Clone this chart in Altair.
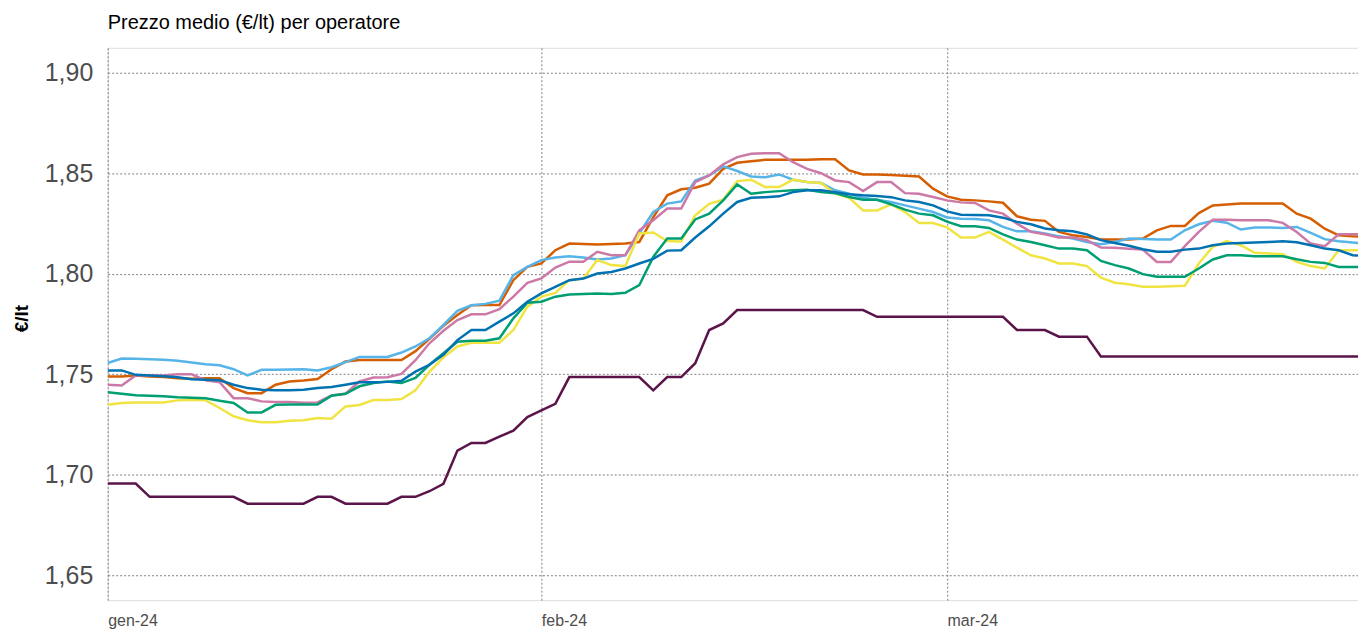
import altair as alt
import pandas as pd

start = "2024-01-01"
n_days = 91

sky = [1.7556, 1.7578, 1.7577, 1.7575, 1.7572, 1.7567, 1.7558, 1.7550, 1.7545, 1.7525,
       1.7494, 1.7522, 1.7522, 1.7524, 1.7525, 1.7519, 1.7535, 1.7560, 1.7586, 1.7586,
       1.7586, 1.7608, 1.7638, 1.7679, 1.7745, 1.7815, 1.7843, 1.7850, 1.7866, 1.7993,
       1.8034, 1.8068, 1.8081, 1.8087, 1.8081, 1.8071, 1.8076, 1.8092, 1.8200, 1.8307,
       1.8349, 1.8360, 1.8464, 1.8489, 1.8534, 1.8511, 1.8484, 1.8480, 1.8494, 1.8468,
       1.8456, 1.8451, 1.8415, 1.8398, 1.8378, 1.8368, 1.8357, 1.8340, 1.8324, 1.8307,
       1.8280, 1.8273, 1.8272, 1.8266, 1.8233, 1.8211, 1.8211, 1.8200, 1.8186, 1.8175,
       1.8158, 1.8147, 1.8158, 1.8175, 1.8173, 1.8170, 1.8170, 1.8216, 1.8246, 1.8263,
       1.8254, 1.8220, 1.8230, 1.8230, 1.8228, 1.8233, 1.8203, 1.8172, 1.8162, 1.8155,
       1.8150]

orange = [1.7489, 1.7489, 1.7494, 1.7489, 1.7486, 1.7480, 1.7477, 1.7480, 1.7480, 1.7431,
          1.7406, 1.7406, 1.7448, 1.7464, 1.7469, 1.7476, 1.7525, 1.7563, 1.7571, 1.7571,
          1.7571, 1.7571, 1.7615, 1.7676, 1.7741, 1.7795, 1.7843, 1.7844, 1.7844, 1.7968,
          1.8034, 1.8051, 1.8117, 1.8150, 1.8148, 1.8145, 1.8148, 1.8150, 1.8158, 1.8280,
          1.8390, 1.8420, 1.8428, 1.8448, 1.8522, 1.8552, 1.8560, 1.8567, 1.8567, 1.8567,
          1.8567, 1.8570, 1.8570, 1.8514, 1.8494, 1.8494, 1.8491, 1.8488, 1.8484, 1.8423,
          1.8385, 1.8368, 1.8365, 1.8360, 1.8353, 1.8286, 1.8269, 1.8263, 1.8208, 1.8191,
          1.8183, 1.8170, 1.8170, 1.8170, 1.8175, 1.8216, 1.8238, 1.8238, 1.8302, 1.8340,
          1.8344, 1.8349, 1.8349, 1.8349, 1.8349, 1.8299, 1.8274, 1.8224, 1.8191, 1.8186,
          1.8183]

pink = [1.7448, 1.7444, 1.7494, 1.7494, 1.7494, 1.7500, 1.7500, 1.7470, 1.7460, 1.7381,
        1.7381, 1.7365, 1.7362, 1.7362, 1.7358, 1.7360, 1.7395, 1.7403, 1.7464, 1.7484,
        1.7485, 1.7502, 1.7570, 1.7654, 1.7716, 1.7770, 1.7798, 1.7798, 1.7824, 1.7886,
        1.7955, 1.7977, 1.8031, 1.8060, 1.8060, 1.8109, 1.8092, 1.8092, 1.8216, 1.8266,
        1.8324, 1.8324, 1.8456, 1.8489, 1.8544, 1.8580, 1.8597, 1.8600, 1.8600, 1.8555,
        1.8522, 1.8500, 1.8464, 1.8456, 1.8411, 1.8456, 1.8456, 1.8401, 1.8398, 1.8382,
        1.8365, 1.8355, 1.8352, 1.8315, 1.8299, 1.8249, 1.8208, 1.8196, 1.8180, 1.8180,
        1.8167, 1.8130, 1.8129, 1.8124, 1.8120, 1.8059, 1.8059, 1.8137, 1.8208, 1.8269,
        1.8269, 1.8266, 1.8266, 1.8266, 1.8253, 1.8208, 1.8150, 1.8137, 1.8196, 1.8196,
        1.8196]

blue = [1.7519, 1.7519, 1.7497, 1.7494, 1.7490, 1.7485, 1.7475, 1.7472, 1.7470, 1.7448,
        1.7431, 1.7423, 1.7420, 1.7420, 1.7423, 1.7431, 1.7437, 1.7448, 1.7460, 1.7460,
        1.7462, 1.7468, 1.7513, 1.7547, 1.7597, 1.7670, 1.7720, 1.7720, 1.7762, 1.7803,
        1.7861, 1.7902, 1.7935, 1.7968, 1.7976, 1.8001, 1.8009, 1.8026, 1.8051, 1.8074,
        1.8115, 1.8117, 1.8180, 1.8236, 1.8299, 1.8357, 1.8378, 1.8381, 1.8385, 1.8406,
        1.8415, 1.8415, 1.8406, 1.8395, 1.8390, 1.8387, 1.8381, 1.8365, 1.8357, 1.8340,
        1.8310, 1.8294, 1.8292, 1.8291, 1.8279, 1.8258, 1.8246, 1.8225, 1.8216, 1.8211,
        1.8196, 1.8167, 1.8153, 1.8139, 1.8122, 1.8109, 1.8109, 1.8120, 1.8125, 1.8142,
        1.8150, 1.8153, 1.8155, 1.8158, 1.8162, 1.8157, 1.8142, 1.8125, 1.8117, 1.8092,
        1.8089]

green = [1.7410, 1.7403, 1.7395, 1.7393, 1.7390, 1.7385, 1.7383, 1.7380, 1.7368, 1.7357,
         1.7310, 1.7310, 1.7348, 1.7349, 1.7350, 1.7350, 1.7393, 1.7403, 1.7440, 1.7456,
         1.7464, 1.7456, 1.7482, 1.7547, 1.7604, 1.7662, 1.7667, 1.7667, 1.7679, 1.7778,
         1.7856, 1.7861, 1.7886, 1.7897, 1.7899, 1.7902, 1.7899, 1.7905, 1.7943, 1.8084,
         1.8175, 1.8175, 1.8270, 1.8299, 1.8365, 1.8444, 1.8398, 1.8406, 1.8411, 1.8415,
         1.8418, 1.8406, 1.8401, 1.8382, 1.8368, 1.8368, 1.8345, 1.8319, 1.8299, 1.8291,
         1.8259, 1.8236, 1.8236, 1.8228, 1.8196, 1.8170, 1.8158, 1.8142, 1.8125, 1.8125,
         1.8117, 1.8064, 1.8043, 1.8026, 1.7998, 1.7985, 1.7985, 1.7985, 1.8026, 1.8071,
         1.8092, 1.8092, 1.8087, 1.8087, 1.8087, 1.8072, 1.8059, 1.8054, 1.8034, 1.8034,
         1.8034]

yellow = [1.7348, 1.7357, 1.7360, 1.7360, 1.7360, 1.7370, 1.7373, 1.7370, 1.7332, 1.7291,
          1.7271, 1.7261, 1.7261, 1.7269, 1.7271, 1.7282, 1.7279, 1.7340, 1.7347, 1.7372,
          1.7372, 1.7377, 1.7420, 1.7512, 1.7584, 1.7638, 1.7657, 1.7657, 1.7657, 1.7720,
          1.7836, 1.7886, 1.7905, 1.7968, 1.7976, 1.8068, 1.8043, 1.8038, 1.8200, 1.8205,
          1.8163, 1.8160, 1.8291, 1.8348, 1.8368, 1.8461, 1.8468, 1.8431, 1.8431, 1.8468,
          1.8456, 1.8451, 1.8398, 1.8378, 1.8315, 1.8315, 1.8345, 1.8307, 1.8252, 1.8252,
          1.8231, 1.8180, 1.8180, 1.8208, 1.8170, 1.8130, 1.8092, 1.8076, 1.8051, 1.8051,
          1.8038, 1.7981, 1.7955, 1.7948, 1.7935, 1.7935, 1.7938, 1.7940, 1.8051, 1.8134,
          1.8163, 1.8142, 1.8104, 1.8101, 1.8097, 1.8059, 1.8038, 1.8026, 1.8117, 1.8117,
          1.8117]

purple = [1.6956, 1.6956, 1.6956, 1.6890, 1.6890, 1.6890, 1.6890, 1.6890, 1.6890, 1.6890,
          1.6856, 1.6856, 1.6856, 1.6856, 1.6856, 1.6890, 1.6890, 1.6856, 1.6856, 1.6856,
          1.6856, 1.6890, 1.6890, 1.6918, 1.6955, 1.7120, 1.7158, 1.7158, 1.7190, 1.7219,
          1.7287, 1.7320, 1.7353, 1.7486, 1.7486, 1.7486, 1.7486, 1.7486, 1.7486, 1.7420,
          1.7486, 1.7486, 1.7555, 1.7720, 1.7753, 1.7819, 1.7819, 1.7819, 1.7819, 1.7819,
          1.7819, 1.7819, 1.7819, 1.7819, 1.7819, 1.7786, 1.7786, 1.7786, 1.7786, 1.7786,
          1.7786, 1.7786, 1.7786, 1.7786, 1.7786, 1.7720, 1.7720, 1.7720, 1.7687, 1.7687,
          1.7687, 1.7588, 1.7588, 1.7588, 1.7588, 1.7588, 1.7588, 1.7588, 1.7588, 1.7588,
          1.7588, 1.7588, 1.7588, 1.7588, 1.7588, 1.7588, 1.7588, 1.7588, 1.7588, 1.7588,
          1.7588]

series_names = ["Operatore A", "Operatore B", "Operatore C", "Operatore D",
                "Operatore E", "Operatore F", "Operatore G"]
series_values = [orange, sky, pink, yellow, green, blue, purple]
series_colors = ["#D55E00", "#56B4E9", "#CC79A7", "#F0E442", "#009E73", "#0072B2", "#5A1449"]

dates = pd.date_range(start, periods=n_days, freq="D").strftime("%Y-%m-%d").tolist()
rows = []
for name, vals in zip(series_names, series_values):
    for d, v in zip(dates, vals):
        rows.append({"data": d, "operatore": name, "prezzo": v})
df = pd.DataFrame(rows)

y_ticks = [1.65, 1.70, 1.75, 1.80, 1.85, 1.90]
x_ticks = [alt.DateTime(year=2024, month=1, date=1, utc=True),
           alt.DateTime(year=2024, month=2, date=1, utc=True),
           alt.DateTime(year=2024, month=3, date=1, utc=True)]

x = alt.X(
    "data:T",
    scale=alt.Scale(
        type="utc",
        domain=[alt.DateTime(year=2024, month=1, date=1, utc=True),
                alt.DateTime(year=2024, month=3, date=30, hours=9, minutes=7, utc=True)],
    ),
    axis=alt.Axis(
        values=x_ticks,
        title=None,
        labelExpr="['gen','feb','mar','apr','mag','giu','lug','ago','set','ott','nov','dic'][utcmonth(datum.value)] + '-' + utcFormat(datum.value, '%y')",
        labelAlign="left",
        labelBaseline="top",
        labelPadding=12,
        labelFontSize=16,
        labelColor="#4D4D4D",
        labelFont="Liberation Sans",
        ticks=False,
        domain=False,
        grid=True,
        gridDash=[2, 2],
        gridColor="#7F7F7F",
        gridWidth=1,
    ),
)

y = alt.Y(
    "prezzo:Q",
    scale=alt.Scale(domain=[1.6376, 1.9124], nice=False, zero=False),
    axis=alt.Axis(
        values=y_ticks,
        title="€/lt",
        titleFont="Liberation Sans",
        titleFontSize=19,
        titleFontWeight="bold",
        titleColor="#000000",
        titleAngle=270,
        titleX=-86,
        titleY=271,
        titleAlign="center",
        titleBaseline="middle",
        labelExpr="replace(format(datum.value, '.2f'), '.', ',')",
        labelFontSize=25,
        labelColor="#4D4D4D",
        labelFont="Liberation Sans",
        labelPadding=15,
        ticks=False,
        domain=False,
        grid=True,
        gridDash=[2, 2],
        gridColor="#7F7F7F",
        gridWidth=1,
    ),
)

chart = (
    alt.Chart(df)
    .mark_line(strokeWidth=2.5, clip=True, interpolate="linear")
    .encode(
        x=x,
        y=y,
        color=alt.Color(
            "operatore:N",
            scale=alt.Scale(domain=series_names, range=series_colors),
            legend=None,
        ),
        detail="operatore:N",
    )
    .properties(
        width=1254,
        height=554,
        title=alt.TitleParams(
            "Prezzo medio (€/lt) per operatore",
            anchor="start",
            frame="group",
            font="Liberation Sans",
            fontSize=20,
            fontWeight="normal",
            color="#000000",
            offset=15,
        ),
        autosize=alt.AutoSizeParams(type="none"),
        padding={"left": 100, "top": 39, "right": 0, "bottom": 32},
    )
    .configure_view(strokeWidth=0)
    .configure(background="#FFFFFF")
)

chart.save("out.html", embed_options={"renderer": "svg", "actions": False})
